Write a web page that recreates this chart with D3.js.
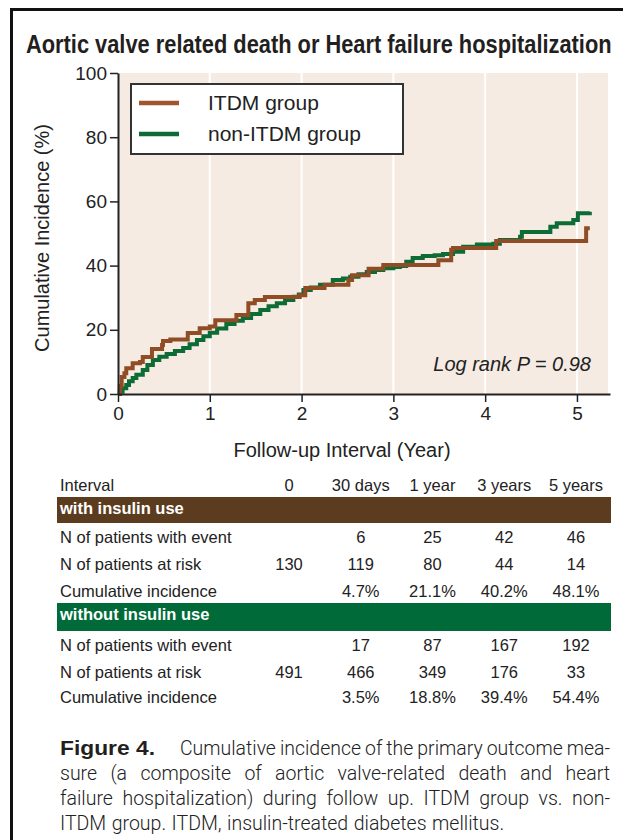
<!DOCTYPE html>
<html>
<head>
<meta charset="utf-8">
<script src="https://cdn.jsdelivr.net/npm/d3@7"></script>
<style>
  body { margin: 0; background: #fff; }
  svg { display: block; }
</style>
</head>
<body>
<svg id="chart" width="623" height="840"></svg>
<script>
// step curves (year, cumulative incidence %)
var itdmYears = [0, 0.02, 0.04, 0.07, 0.09, 0.16, 0.24, 0.27, 0.37, 0.48, 0.49, 0.57, 0.76, 0.89, 1.0, 1.06, 1.29, 1.42, 1.49, 1.6, 1.98, 2.04, 2.25, 2.51, 2.55, 2.73, 2.89, 3.49, 3.63, 3.65, 4.12, 5.1, 5.14];
var itdmIncidence = [0, 2.5, 5.3, 6.5, 8.0, 9.6, 10.0, 11.5, 14.0, 15.3, 16.5, 17.0, 19.0, 20.5, 21.0, 23.0, 24.6, 28.3, 29.3, 30.2, 30.8, 33.0, 34.0, 35.5, 37.0, 39.0, 40.2, 41.7, 44.9, 45.5, 47.7, 51.6, 51.6];

var nonItdmYears = [0, 0.02, 0.05, 0.09, 0.12, 0.16, 0.2, 0.27, 0.32, 0.38, 0.45, 0.53, 0.62, 0.71, 0.78, 0.86, 0.93, 1.0, 1.08, 1.18, 1.27, 1.36, 1.45, 1.55, 1.64, 1.73, 1.82, 1.91, 1.97, 2.02, 2.1, 2.2, 2.34, 2.45, 2.53, 2.62, 2.71, 2.8, 2.89, 3.0, 3.07, 3.14, 3.21, 3.32, 3.45, 3.54, 3.65, 3.76, 3.91, 4.09, 4.16, 4.38, 4.4, 4.69, 4.71, 4.78, 4.96, 5.01, 5.14];
var nonItdmIncidence = [0, 0.7, 1.8, 2.8, 4.0, 5.0, 6.0, 7.5, 9.0, 10.6, 11.6, 12.5, 13.4, 14.3, 15.5, 16.8, 18.0, 19.1, 20.4, 21.8, 22.8, 23.7, 24.9, 26.2, 27.3, 28.3, 29.3, 30.3, 31.0, 32.4, 33.2, 34.0, 35.5, 36.0, 36.5, 37.3, 38.0, 38.6, 39.2, 39.6, 39.9, 41.2, 42.4, 43.0, 43.2, 43.6, 44.3, 45.9, 46.6, 46.8, 48.0, 49.0, 50.5, 50.5, 52.1, 53.2, 54.2, 56.3, 56.8];

var xTicks = [0, 1, 2, 3, 4, 5];
var yTicks = [0, 20, 40, 60, 80, 100];
var seriesNames = ["ITDM group", "non-ITDM group"];

// risk table
var intervals = ["0", "30 days", "1 year", "3 years", "5 years"];
var rowLabels = ["N of patients with event", "N of patients at risk", "Cumulative incidence"];
var itdmEvents = ["", "6", "25", "42", "46"];
var itdmAtRisk = ["130", "119", "80", "44", "14"];
var itdmCumInc = ["", "4.7%", "21.1%", "40.2%", "48.1%"];
var nonItdmEvents = ["", "17", "87", "167", "192"];
var nonItdmAtRisk = ["491", "466", "349", "176", "33"];
var nonItdmCumInc = ["", "3.5%", "18.8%", "39.4%", "54.4%"];

var brownLine = "#8f4c25", greenLine = "#0d6b36";
var sans = "'Liberation Sans', Arial, sans-serif";

var svg = d3.select("#chart");

// frame
svg.append("path")
  .attr("d", "M11.5,840 V9.5 H623")
  .attr("fill", "none")
  .attr("stroke", "#111")
  .attr("stroke-width", 3);

// squeeze a bold text horizontally to a given width (condensed look)
function condensed(txt, x0, y0, size, width) {
  var t = svg.append("text")
    .attr("x", 0).attr("y", 0)
    .style("font-family", sans).style("font-weight", "bold")
    .style("font-size", size + "px").attr("fill", "#231f20")
    .text(txt);
  var w = t.node().getComputedTextLength();
  t.attr("transform", "translate(" + x0 + "," + y0 + ") scale(" + (width / w) + ",1)");
  return t;
}

condensed("Aortic valve related death or Heart failure hospitalization", 26, 53, 25, 586);

var x = d3.scaleLinear().domain([0, 5.36]).range([118, 610]);
var y = d3.scaleLinear().domain([0, 100]).range([394, 73]);

svg.append("rect")
  .attr("x", x(0)).attr("y", y(100))
  .attr("width", 608 - x(0)).attr("height", y(0) - y(100))
  .attr("fill", "#f5ebe2");

svg.selectAll(".grid")
  .data(xTicks.filter(function(d) { return d > 0; }))
  .enter().append("line")
  .attr("class", "grid")
  .attr("x1", function(d) { return x(d); })
  .attr("x2", function(d) { return x(d); })
  .attr("y1", y(100)).attr("y2", y(0))
  .attr("stroke", "#fff").attr("stroke-width", 2);

var line = d3.line()
  .x(function(d) { return x(d[0]); })
  .y(function(d) { return y(d[1]); })
  .curve(d3.curveStepAfter);

svg.append("path")
  .datum(d3.zip(nonItdmYears, nonItdmIncidence))
  .attr("d", line)
  .attr("fill", "none").attr("stroke", greenLine).attr("stroke-width", 4);

svg.append("path")
  .datum(d3.zip(itdmYears, itdmIncidence))
  .attr("d", line)
  .attr("fill", "none").attr("stroke", brownLine).attr("stroke-width", 4);

// axes
var yAxis = svg.append("g")
  .attr("transform", "translate(" + x(0) + ",0)")
  .call(d3.axisLeft(y).tickValues(yTicks).tickSize(8).tickPadding(3).tickSizeOuter(0));
var xAxis = svg.append("g")
  .attr("transform", "translate(0," + y(0) + ")")
  .call(d3.axisBottom(x).tickValues(xTicks).tickFormat(d3.format("d"))
    .tickSize(8).tickPadding(5).tickSizeOuter(0));

[yAxis, xAxis].forEach(function(g) {
  g.select(".domain").attr("stroke", "#222").attr("stroke-width", 2);
  g.selectAll(".tick line").attr("stroke", "#222").attr("stroke-width", 1.5);
  g.selectAll(".tick text")
    .style("font-family", sans).style("font-size", "19px").attr("fill", "#222");
});

svg.append("text")
  .attr("transform", "translate(49,238) rotate(-90)")
  .attr("text-anchor", "middle")
  .style("font-family", sans).style("font-size", "20px").attr("fill", "#222")
  .text("Cumulative Incidence (%)");

svg.append("text")
  .attr("x", 342).attr("y", 457)
  .attr("text-anchor", "middle")
  .style("font-family", sans).style("font-size", "20px").attr("fill", "#222")
  .text("Follow-up Interval (Year)");

svg.append("text")
  .attr("x", 591).attr("y", 371)
  .attr("text-anchor", "end")
  .style("font-family", sans).style("font-size", "20px").style("font-style", "italic")
  .attr("fill", "#222")
  .text("Log rank P = 0.98");

// legend
var legend = svg.append("g");
legend.append("rect")
  .attr("x", 131).attr("y", 84).attr("width", 272).attr("height", 70)
  .attr("fill", "#fff").attr("stroke", "#333").attr("stroke-width", 2);
var legendColors = ["#a0552c", greenLine];
seriesNames.forEach(function(name, i) {
  var ly = 103 + i * 31;
  legend.append("line")
    .attr("x1", 139).attr("x2", 179).attr("y1", ly).attr("y2", ly)
    .attr("stroke", legendColors[i]).attr("stroke-width", 4.5);
  legend.append("text")
    .attr("x", 208).attr("y", ly + 7)
    .style("font-family", sans).style("font-size", "21px").attr("fill", "#222")
    .text(name);
});

// risk table
var col = d3.scalePoint().domain(intervals).range([289, 576]);
var tableFont = "16.5px";

function tableRow(label, values, baseline) {
  svg.append("text")
    .attr("x", 60).attr("y", baseline)
    .style("font-family", sans).style("font-size", tableFont).attr("fill", "#222")
    .text(label);
  svg.selectAll(null)
    .data(values)
    .enter().append("text")
    .attr("x", function(d, i) { return col(intervals[i]); })
    .attr("y", baseline)
    .attr("text-anchor", "middle")
    .style("font-family", sans).style("font-size", tableFont).attr("fill", "#222")
    .text(function(d) { return d; });
}

function band(label, color, top, h) {
  svg.append("rect")
    .attr("x", 57).attr("y", top).attr("width", 554).attr("height", h)
    .attr("fill", color);
  svg.append("text")
    .attr("x", 60).attr("y", top + 17)
    .style("font-family", sans).style("font-size", tableFont).style("font-weight", "bold")
    .attr("fill", "#fff")
    .text(label);
}

tableRow("Interval", intervals, 491);
band("with insulin use", "#5c3c1e", 497, 26);
tableRow(rowLabels[0], itdmEvents, 543);
tableRow(rowLabels[1], itdmAtRisk, 570);
tableRow(rowLabels[2], itdmCumInc, 597);
band("without insulin use", "#006a38", 603, 28);
tableRow(rowLabels[0], nonItdmEvents, 651);
tableRow(rowLabels[1], nonItdmAtRisk, 678);
tableRow(rowLabels[2], nonItdmCumInc, 703);

// caption, justified by hand
var capFont = "'Roboto', 'Liberation Sans', Arial, sans-serif";
condensed("Figure 4.", 60, 755, 20, 95);

var captionLines = [
  { text: "Cumulative incidence of the primary outcome mea-", x0: 180, x1: 610, y: 755, justify: true },
  { text: "sure (a composite of aortic valve-related death and heart", x0: 60, x1: 610, y: 780, justify: true },
  { text: "failure hospitalization) during follow up. ITDM group vs. non-", x0: 60, x1: 610, y: 805, justify: true },
  { text: "ITDM group. ITDM, insulin-treated diabetes mellitus.", x0: 60, x1: 610, y: 830, justify: false }
];

captionLines.forEach(function(ln) {
  var words = ln.text.split(" ");
  var nodes = words.map(function(w) {
    return svg.append("text")
      .attr("y", ln.y)
      .style("font-family", capFont).style("font-weight", 300)
      .style("font-size", "19.5px").attr("fill", "#222")
      .text(w);
  });
  var widths = nodes.map(function(n) { return n.node().getComputedTextLength(); });
  var total = d3.sum(widths);
  var gap = ln.justify ? (ln.x1 - ln.x0 - total) / (words.length - 1) : 5.5;
  var squeeze = 1;
  if (gap < 4) {
    // too long for the line: keep small word gaps and squeeze the glyphs a little
    gap = 4;
    squeeze = (ln.x1 - ln.x0 - gap * (words.length - 1)) / total;
  }
  var cx = ln.x0;
  nodes.forEach(function(n, i) {
    if (squeeze < 1) {
      n.attr("textLength", widths[i] * squeeze).attr("lengthAdjust", "spacingAndGlyphs");
    }
    n.attr("x", cx);
    cx += widths[i] * squeeze + gap;
  });
});
</script>
</body>
</html>
